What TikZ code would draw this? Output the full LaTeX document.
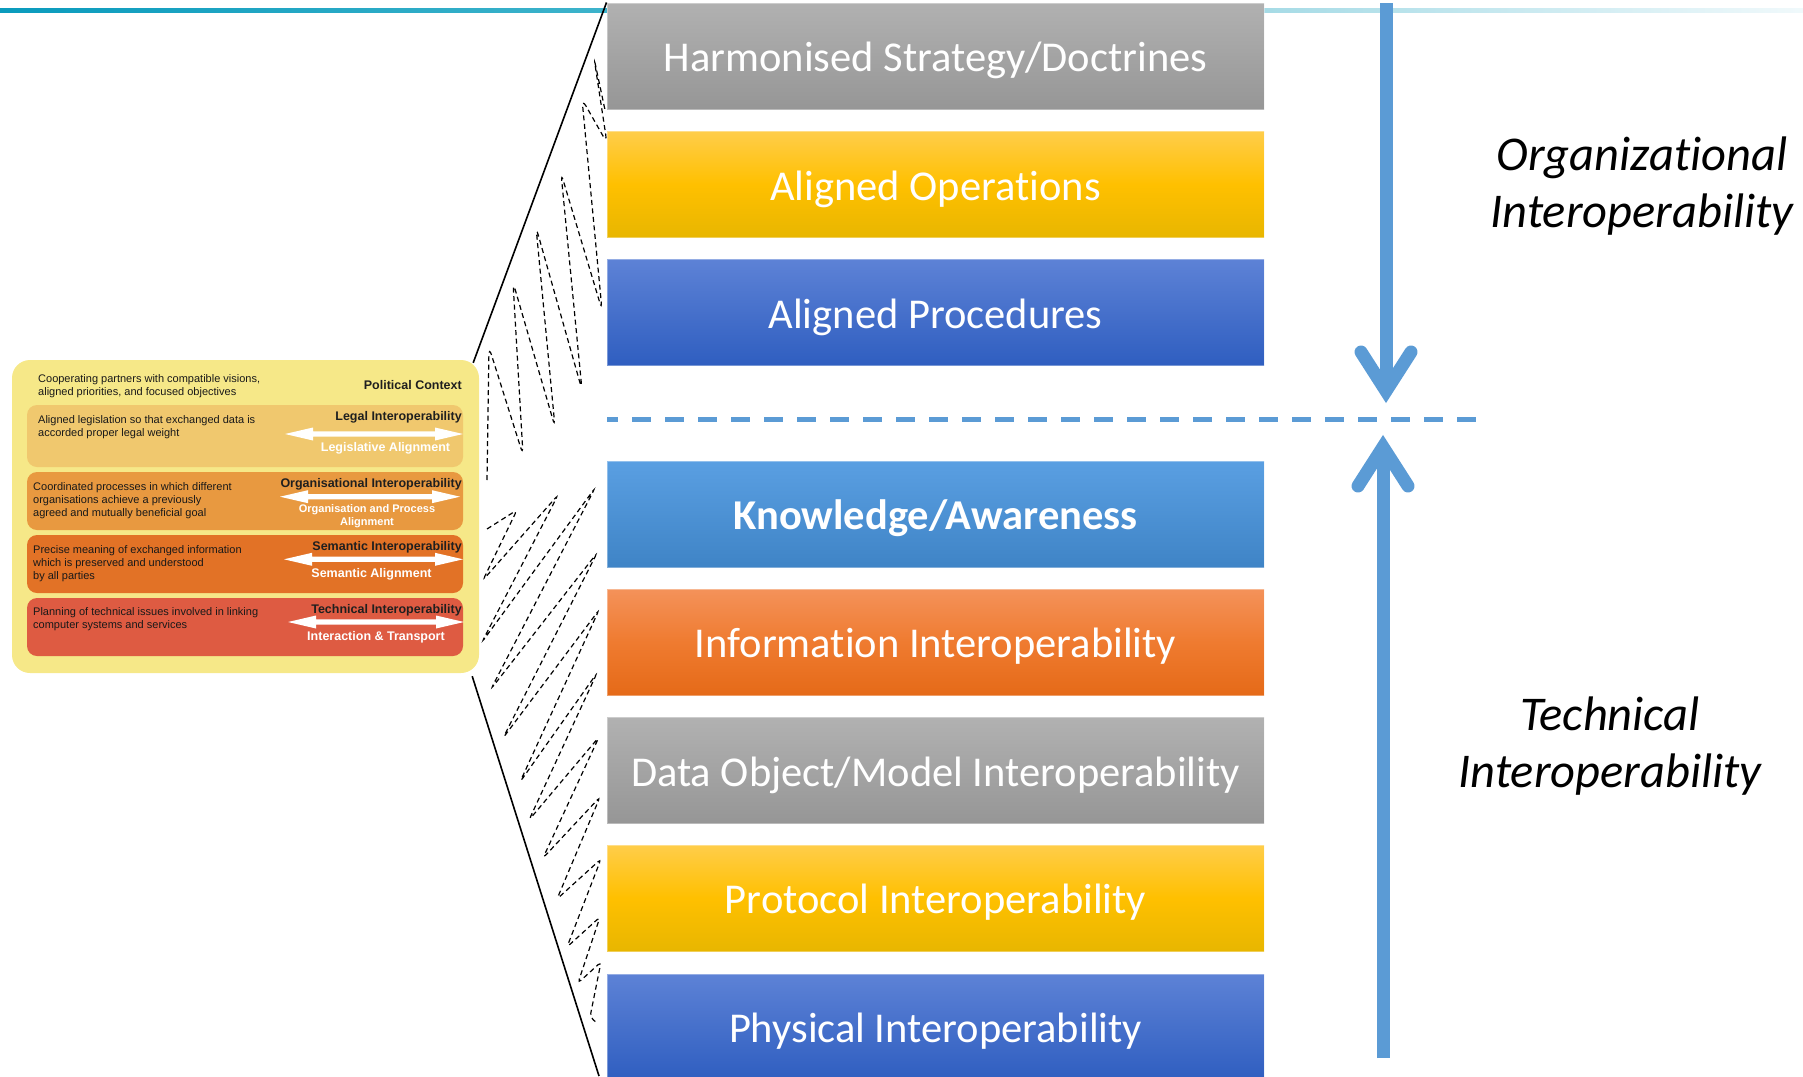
\documentclass[tikz,border=0pt]{standalone}
\usepackage{fontspec}
\setmainfont{Carlito}[Ligatures=NoCommon]
\newfontfamily\arialf{Liberation Sans}
\usetikzlibrary{calc}
\definecolor{tealA}{HTML}{0A9BBD}
\definecolor{tealB}{HTML}{3DB3CB}
\definecolor{tealC}{HTML}{A6DBE6}
\definecolor{tealD}{HTML}{F0F9FB}
\definecolor{grayT}{HTML}{B1B1B1}
\definecolor{grayB}{HTML}{969696}
\definecolor{goldT}{HTML}{FFCD4A}
\definecolor{goldM}{HTML}{FFC000}
\definecolor{goldB}{HTML}{E8B600}
\definecolor{blueT}{HTML}{5D82D6}
\definecolor{blueB}{HTML}{2F5EC0}
\definecolor{lblueT}{HTML}{5A9FE2}
\definecolor{lblueB}{HTML}{3F84C6}
\definecolor{orT}{HTML}{F4925A}
\definecolor{orM}{HTML}{EF7B30}
\definecolor{orB}{HTML}{E56A18}
\definecolor{arrBlue}{HTML}{5B9BD5}
\definecolor{panelY}{HTML}{F6E888}
\definecolor{bandLegal}{HTML}{F0C86E}
\definecolor{bandOrg}{HTML}{E89940}
\definecolor{bandSem}{HTML}{E27226}
\definecolor{bandTech}{HTML}{DE5B42}
\newcommand\dblarr[3]{%
  \fill[white] (#1,#3) -- ({#1+28},{#3-6.5}) -- ({#1+28},{#3-2.6}) -- ({#2-28},{#3-2.6})
    -- ({#2-28},{#3-6.5}) -- (#2,#3) -- ({#2-28},{#3+6.5}) -- ({#2-28},{#3+2.6})
    -- ({#1+28},{#3+2.6}) -- ({#1+28},{#3+6.5}) -- cycle;}
\begin{document}
\begin{tikzpicture}[x=1pt,y=-1pt,
  lay/.style={minimum width=657pt, minimum height=106pt, inner sep=0pt, text=white,
    text height=33pt, text depth=2pt,
    draw=white, draw opacity=0.35, line width=1pt, font=\fontsize{42.5}{50}\selectfont},
  band/.style={rounded corners=10pt, minimum width=436pt, inner sep=0pt},
  small/.style={font=\arialf\fontsize{11}{13}\selectfont, inner sep=0pt, align=left, anchor=north west, text=black!90},
  blab/.style={font=\arialf\bfseries\fontsize{12.5}{13}\selectfont, inner sep=0pt, anchor=base east, text=black!88},
  wlab/.style={font=\arialf\bfseries\fontsize{12.5}{13}\selectfont, inner sep=0pt, anchor=base, text=white},
  side/.style={font=\itshape\fontsize{48.5}{57}\selectfont, inner sep=0pt, align=center},
  zig/.style={draw=black, line width=1.2pt, dash pattern=on 5pt off 3.5pt},
  barrow/.style={draw=arrBlue, line width=13pt}
]
\useasboundingbox (0,0) rectangle (1803,1076);
% top line
\shade[left color=tealA, right color=tealB] (0,8) rectangle (607,12);
\shade[left color=tealC, right color=tealD] (1264,8) rectangle (1803,12);

% layer boxes
\node[lay, top color=grayT, bottom color=grayB] (b1) at (935.5,56) {Harmonised Strategy/Doctrines};
\node[lay, top color=goldT, bottom color=goldB, middle color=goldM] (b2) at (935.5,184.5) {Aligned Operations};
\node[lay, top color=blueT, bottom color=blueB] (b3) at (935.5,312.5) {Aligned Procedures};
\node[lay, top color=lblueT, bottom color=lblueB, font=\bfseries\fontsize{42.5}{50}\selectfont] (b4) at (935.5,514) {Knowledge/Awareness};
\node[lay, top color=orT, bottom color=orB, middle color=orM] (b5) at (935.5,642) {Information Interoperability};
\node[lay, top color=grayT, bottom color=grayB] (b6) at (935.5,770.5) {Data Object/Model Interoperability};
\node[lay, top color=goldT, bottom color=goldB, middle color=goldM] (b7) at (935.5,898) {Protocol Interoperability};
\node[lay, top color=blueT, bottom color=blueB] (b8) at (935.5,1027) {Physical Interoperability};

% dashed separator
\coordinate (sepL) at (607,419);
\coordinate (sepR) at (1476,419);
\draw[draw=arrBlue, line width=5pt, dash pattern=on 19pt off 14pt, dash phase=8pt] (sepL) -- (sepR);

% blue arrows
\coordinate (dTop) at (1386,3);
\coordinate (dTip) at (1386,391);
\coordinate (dL) at (1361,352);
\coordinate (dR) at (1411,352);
\draw[barrow] (dTop) -- (dTip);
\draw[barrow, line cap=round, line join=miter] (dL) -- (dTip) -- (dR);
\coordinate (uBot) at (1383,1058);
\coordinate (uTip) at (1383,447);
\coordinate (uL) at (1358,486);
\coordinate (uR) at (1408,486);
\draw[barrow] (uBot) -- (uTip);
\draw[barrow, line cap=round, line join=miter] (uL) -- (uTip) -- (uR);

% side labels
\node[side] (orgI) at (1642,186) {Organizational\\Interoperability};
\node[side] (techI) at (1610,746) {Technical\\Interoperability};

% left panel
\node[fill=panelY, rounded corners=18pt, minimum width=467pt, minimum height=313pt, inner sep=0pt] (panel) at (245.5,516.5) {};
\node[band, fill=bandLegal, minimum height=62pt] (legal) at (245,436) {};
\node[band, fill=bandOrg, minimum height=58pt] (orgb) at (245,501) {};
\node[band, fill=bandSem, minimum height=58pt] (semb) at (245,564) {};
\node[band, fill=bandTech, minimum height=58pt] (techb) at (245,627) {};

\node[small] (t0) at (38,374.6) {Cooperating partners with compatible visions,\\aligned priorities, and focused objectives};
\node[blab] (l0) at (462,389.3) {Political Context};

\node[small] (t1) at (38,415.2) {Aligned legislation so that exchanged data is\\accorded proper legal weight};
\node[blab] (l1) at (462,420.7) {Legal Interoperability};
\dblarr{285}{463}{434}
\node[wlab] (w1) at (385.5,451.7) {Legislative Alignment};

\node[small] (t2) at (33,482.6) {Coordinated processes in which different\\organisations achieve a previously\\agreed and mutually beneficial goal};
\node[blab] (l2) at (462,487.7) {Organisational Interoperability};
\dblarr{280}{460}{496.7}
\node[font=\arialf\bfseries\fontsize{11}{13.4}\selectfont, inner sep=0pt, anchor=north, text=white, align=center] (w2) at (367,504.2) {Organisation and Process\\Alignment};

\node[small] (t3) at (33,545.2) {Precise meaning of exchanged information\\which is preserved and understood\\by all parties};
\node[blab] (l3) at (462,550.3) {Semantic Interoperability};
\dblarr{284}{463}{559.3}
\node[wlab] (w3) at (371.5,577.3) {Semantic Alignment};

\node[small] (t4) at (33,607.2) {Planning of technical issues involved in linking\\computer systems and services};
\node[blab] (l4) at (462,613.3) {Technical Interoperability};
\dblarr{288}{464}{622}
\node[wlab] (w4) at (376,640) {Interaction \& Transport};

% zoom lines
\coordinate (pu) at ($(panel.north east)+(-6,3)$);
\coordinate (pl) at ($(panel.south east)+(-7,3)$);
\coordinate (lowEnd) at (599,1076);
\draw[line width=1.6pt] (pu) -- (b1.north west);
\draw[line width=1.6pt] (pl) -- (lowEnd);

% dashed zigzags
\draw[zig, rounded corners=8pt] (487,480) -- (489,347) -- (523,455) -- (513,282) -- (555,427)
  -- (536,227) -- (582,390) -- (561,173) -- (602,310) -- (582,99) -- (607,143) -- (594,58) -- (605,110);
\draw[zig, rounded corners=4pt] (487,529) -- (517,510) -- (483,580) -- (558,495) -- (482,642)
  -- (595,488) -- (491,689) -- (597,553) -- (503,738) -- (599,610) -- (520,782) -- (597,673)
  -- (529,820) -- (599,737) -- (543,858) -- (600,797) -- (557,899) -- (601,859) -- (567,947)
  -- (600,917) -- (578,983) -- (601,962) -- (590,1017) -- (597,1023);
\end{tikzpicture}
\end{document}
